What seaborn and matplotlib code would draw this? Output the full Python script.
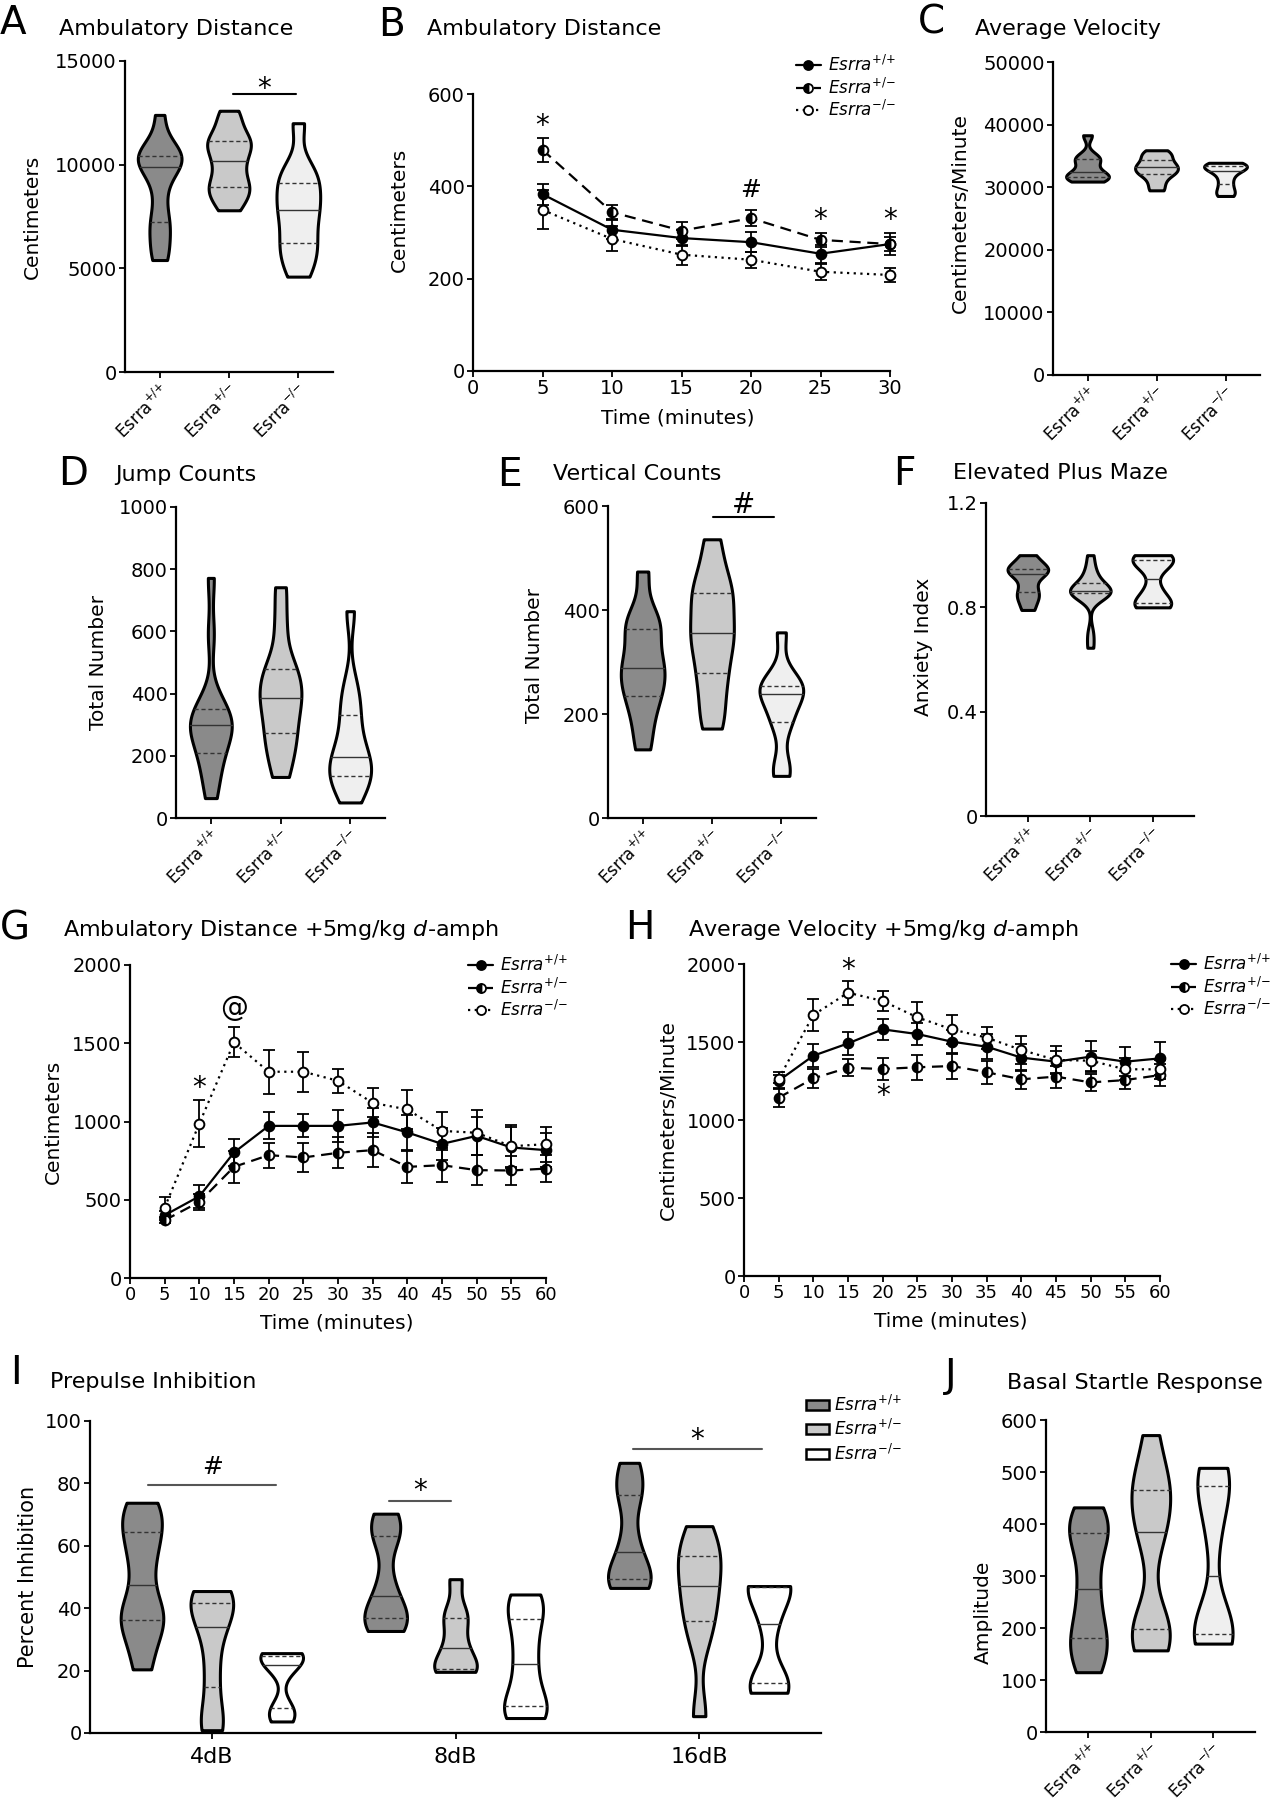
import numpy as np
import pandas as pd
import matplotlib
matplotlib.use("Agg")
import matplotlib.pyplot as plt
import seaborn as sns
from matplotlib.lines import Line2D
from matplotlib.patches import Patch

# figure size in pixels (saved at dpi 100)
W, H = 1271, 1800

GENOS = ["+/+", "+/-", "-/-"]
TICK_LABELS = [r"Esrra$^{{+}/{+}}$", r"Esrra$^{{+}/{-}}$", r"Esrra$^{{-}/{-}}$"]
LEGEND_LABELS = [r"$\mathit{Esrra}^{{+}/{+}}$", r"$\mathit{Esrra}^{{+}/{-}}$",
                 r"$\mathit{Esrra}^{{-}/{-}}$"]
VIOLIN_COLORS = ["#8a8a8a", "#c9c9c9", "#efefef"]
PPI_COLORS = ["#8a8a8a", "#c9c9c9", "#ffffff"]

# A - ambulatory distance, 30 min total (cm), per animal
A_WT = [5400, 6000, 7000, 7300, 8600, 9700, 10100, 10300, 10400, 10500, 10700, 12400]
A_HET = [7800, 8400, 8700, 9000, 9400, 10000, 10400, 10900, 11100, 11300, 12000, 12600]
A_KO = [4600, 5300, 5900, 6300, 7000, 7600, 8000, 8500, 9000, 9500, 9900, 12000]

# B - ambulatory distance per 5 min bin (mean, sem)
B_TIME = [5, 10, 15, 20, 25, 30]
B_WT = [383, 306, 288, 279, 254, 275]
B_WT_SEM = [23, 20, 18, 22, 20, 23]
B_HET = [479, 344, 304, 331, 284, 275]
B_HET_SEM = [26, 15, 18, 18, 16, 15]
B_KO = [349, 286, 252, 241, 215, 208]
B_KO_SEM = [42, 27, 22, 17, 17, 15]

# C - average velocity
C_WT = [30900, 31300, 31600, 31800, 32000, 32900, 34000, 34600, 35000, 38300]
C_HET = [29500, 30800, 32000, 32300, 32900, 33400, 33700, 34600, 35200, 35900]
C_KO = [28600, 29200, 30200, 31300, 32300, 32900, 33200, 33400, 33600, 33900]

# D - jump counts
D_WT = [64, 120, 180, 200, 240, 280, 295, 300, 305, 320, 360, 380, 590, 772]
D_HET = [132, 200, 250, 280, 340, 370, 400, 430, 470, 500, 620, 742]
D_KO = [50, 100, 120, 140, 170, 185, 210, 260, 320, 370, 430, 665]

# E - vertical counts
E_WT = [132, 180, 220, 240, 265, 280, 298, 320, 360, 375, 390, 474]
E_HET = [172, 210, 260, 285, 330, 345, 365, 400, 430, 440, 480, 536]
E_KO = [81, 100, 180, 195, 235, 243, 248, 255, 270, 357]

# F - elevated plus maze anxiety index
F_WT = [0.79, 0.83, 0.85, 0.88, 0.92, 0.935, 0.945, 0.95, 0.97, 1.0]
F_HET = [0.645, 0.70, 0.84, 0.855, 0.857, 0.859, 0.86, 0.862, 0.865, 0.87, 0.90, 0.92, 0.95, 1.0]
F_KO = [0.80, 0.81, 0.82, 0.87, 0.95, 0.98, 0.99, 1.0]

# G - ambulatory distance after d-amphetamine (mean, sem)
G_TIME = [5, 10, 15, 20, 25, 30, 35, 40, 45, 50, 55, 60]
G_WT = [401, 522, 802, 972, 972, 972, 994, 930, 857, 908, 834, 817]
G_WT_SEM = [30, 75, 89, 86, 73, 100, 95, 110, 100, 120, 130, 110]
G_HET = [369, 486, 710, 785, 770, 800, 817, 710, 721, 689, 687, 699]
G_HET_SEM = [20, 50, 100, 80, 95, 100, 110, 100, 110, 95, 95, 85]
G_KO = [450, 987, 1505, 1318, 1318, 1260, 1119, 1077, 940, 928, 842, 855]
G_KO_SEM = [68, 153, 96, 140, 128, 75, 92, 123, 122, 145, 135, 111]

# H - average velocity after d-amphetamine (mean, sem)
H_WT = [1252, 1412, 1491, 1581, 1551, 1502, 1470, 1400, 1374, 1406, 1374, 1395]
H_WT_SEM = [55, 73, 75, 66, 70, 75, 80, 85, 70, 100, 92, 107]
H_HET = [1143, 1267, 1335, 1327, 1338, 1346, 1306, 1261, 1278, 1241, 1256, 1288]
H_HET_SEM = [60, 60, 55, 70, 80, 80, 75, 60, 70, 55, 55, 70]
H_KO = [1263, 1673, 1816, 1763, 1658, 1581, 1528, 1449, 1385, 1380, 1325, 1325]
H_KO_SEM = [25, 100, 77, 64, 100, 92, 70, 89, 89, 64, 70, 60]

# I - prepulse inhibition (%)
I_COND = ["4dB", "8dB", "16dB"]
I_4_WT = [20.4, 30, 36, 37.5, 42, 53, 60, 66, 70, 73.8]
I_4_HET = [0.9, 5, 18, 30, 38, 41, 44, 45.5]
I_4_KO = [3.7, 6, 8.5, 20, 23.4, 24.5, 25.3, 25.6]
I_8_WT = [32.7, 35, 37.5, 40, 48, 62, 66, 70.3]
I_8_HET = [19.6, 20, 20.8, 25, 29.4, 36, 39, 49.3]
I_8_KO = [4.8, 7, 9.3, 18, 26.4, 35, 41, 44.4]
I_16_WT = [46.5, 48, 49.7, 54, 62, 75, 80, 86.6]
I_16_HET = [5.4, 30, 38, 44, 50, 56, 59, 66.3]
I_16_KO = [12.9, 15, 17, 35, 46.9, 47, 47.1]

# J - basal startle amplitude
J_WT = [115, 150, 175, 200, 250, 300, 360, 390, 400, 432]
J_HET = [157, 180, 195, 210, 370, 398, 450, 470, 490, 571]
J_KO = [170, 180, 191, 220, 380, 470, 480, 508]

SERIES_STYLE = [
    dict(linestyle="-", markerfacecolor="black", fillstyle="full"),
    dict(linestyle=(0, (5, 3)), markerfacecolor="black", fillstyle="left"),
    dict(linestyle=(0, (1, 2)), markerfacecolor="white", fillstyle="full"),
]
MARK_OFFSET = {"*": 0.575, "#": 0.365, "@": 0.28}


def px_axes(fig, x0, y0, x1, y1):
    return fig.add_axes([x0 / W, 1 - y1 / H, (x1 - x0) / W, (y1 - y0) / H])


def fig_text(fig, x, y, s, **kw):
    fig.text(x / W, 1 - y / H, s, ha="left", va="center", **kw)


def prism_axes(ax):
    sns.despine(ax=ax)
    for side in ["left", "bottom"]:
        ax.spines[side].set_linewidth(1.6)
    ax.tick_params(axis="both", width=1.3, length=4, labelsize=14, pad=2)


def mark(ax, x, y, s, fs=20):
    ax.annotate(s, (x, y), xytext=(0, -MARK_OFFSET[s] * fs), textcoords="offset points",
                ha="center", va="baseline", fontsize=fs, annotation_clip=False)


def solid_medians(ax):
    # inner quartile lines come as q25, median, q75 per violin
    for ln in ax.lines[1::3]:
        ln.set_linestyle("-")


def violin_panel(ax, groups, ylim, yticks, ylabel, label_xy, width=0.62,
                 xlim=(-0.5, 2.5), yticklabels=None):
    df = pd.DataFrame({"geno": np.repeat(GENOS, [len(g) for g in groups]),
                       "val": np.concatenate(groups)})
    sns.violinplot(data=df, x="geno", y="val", hue="geno", order=GENOS, hue_order=GENOS,
                   palette=VIOLIN_COLORS, legend=False, cut=0, density_norm="width",
                   width=width, bw_adjust=0.6, gridsize=200, inner="quart", linewidth=2.2,
                   linecolor="black", saturation=1,
                   inner_kws=dict(color="#333333", linewidth=1.0, dashes=(3, 2)), ax=ax)
    solid_medians(ax)
    prism_axes(ax)
    ax.set_xlim(*xlim)
    ax.set_ylim(*ylim)
    ax.set_yticks(yticks)
    ax.set_yticklabels(yticklabels if yticklabels else [str(v) for v in yticks])
    ax.set_xticks([0, 1, 2])
    ax.set_xticklabels(TICK_LABELS, rotation=45, ha="right", rotation_mode="anchor", fontsize=12)
    ax.set_xlabel("")
    ax.set_ylabel(ylabel, fontsize=14.5)
    ax.yaxis.set_label_coords(*label_xy)


def line_panel(fig, ax, times, means, sems, xmax, ylim, yticks, ylabel, label_xy, xlabel_xy,
               legend_xy, xtick_fs=14):
    for m, e, st in zip(means, sems, SERIES_STYLE):
        ax.errorbar(times, m, yerr=e, fmt="none", ecolor="black", elinewidth=1.3,
                    capsize=4.5, capthick=1.3, zorder=2)
        sns.lineplot(x=times, y=m, ax=ax, color="black", linewidth=1.6, marker="o",
                     markersize=7, markeredgecolor="black", markeredgewidth=1.4,
                     markerfacecoloralt="white", errorbar=None, zorder=3, **st)
    for art in ax.lines + ax.collections:
        art.set_clip_on(False)
    prism_axes(ax)
    ax.set_xlim(0, xmax)
    ax.set_ylim(*ylim)
    ax.set_xticks(range(0, xmax + 1, 5))
    ax.set_yticks(yticks)
    ax.tick_params(axis="x", labelsize=xtick_fs)
    ax.set_xlabel("Time (minutes)", fontsize=14.5)
    ax.set_ylabel(ylabel, fontsize=14.5)
    ax.yaxis.set_label_coords(*label_xy)
    ax.xaxis.set_label_coords(*xlabel_xy)
    handles = [Line2D([0], [0], color="black", linewidth=1.6, marker="o", markersize=6.5,
                      markeredgecolor="black", markeredgewidth=1.3,
                      markerfacecoloralt="white", **st) for st in SERIES_STYLE]
    ax.legend(handles, LEGEND_LABELS, loc="upper left",
              bbox_to_anchor=(legend_xy[0] / W, 1 - legend_xy[1] / H),
              bbox_transform=fig.transFigure, frameon=False, fontsize=12,
              handlelength=1.5, handletextpad=0.4, labelspacing=0.15,
              borderpad=0, borderaxespad=0)


def main():
    sns.set_style("ticks")
    plt.rcParams["font.family"] = ["DejaVu Sans"]
    plt.rcParams["text.color"] = "black"
    plt.rcParams["axes.labelcolor"] = "black"
    plt.rcParams["xtick.color"] = "black"
    plt.rcParams["ytick.color"] = "black"
    plt.rcParams["axes.edgecolor"] = "black"

    fig = plt.figure(figsize=(W / 100, H / 100), dpi=100)
    fig.patch.set_facecolor("white")

    # panel letters and titles
    for letter, x, y in [("A", 0, 23), ("B", 378, 25), ("C", 918, 23), ("D", 58, 474),
                         ("E", 497, 475), ("F", 893, 474), ("G", 0, 928), ("H", 625, 928),
                         ("I", 10, 1373), ("J", 945, 1376)]:
        fig_text(fig, x, y, letter, fontsize=28)
    for title, x, y in [("Ambulatory Distance", 59, 29), ("Ambulatory Distance", 427, 29),
                        ("Average Velocity", 975, 29), ("Jump Counts", 115, 475),
                        ("Vertical Counts", 553, 474), ("Elevated Plus Maze", 953, 473),
                        (r"Ambulatory Distance +5mg/kg $\mathit{d}$-amph", 63, 930),
                        (r"Average Velocity +5mg/kg $\mathit{d}$-amph", 688, 930),
                        ("Prepulse Inhibition", 50, 1382),
                        ("Basal Startle Response", 1007, 1383)]:
        fig_text(fig, x, y, title, fontsize=16)

    # A
    ax = px_axes(fig, 125, 61, 333, 372)
    violin_panel(ax, [A_WT, A_HET, A_KO], (0, 15000), [0, 5000, 10000, 15000],
                 "Centimeters", (-0.40, 0.5), width=0.63)
    ax.plot([1.06, 1.96], [13400, 13400], color="black", lw=1.5)
    mark(ax, 1.5, 14050, "*")

    # B
    ax = px_axes(fig, 473, 94, 890, 371)
    line_panel(fig, ax, B_TIME, [B_WT, B_HET, B_KO], [B_WT_SEM, B_HET_SEM, B_KO_SEM], 30,
               (0, 600), [0, 200, 400, 600], "Centimeters", (-0.153, 0.58), (0.49, -0.134),
               (796, 55))
    mark(ax, 5, 548, "*")
    mark(ax, 20, 396, "#", fs=18)
    mark(ax, 25, 345, "*")
    mark(ax, 30, 345, "*")

    # C
    ax = px_axes(fig, 1053, 62, 1260, 375)
    violin_panel(ax, [C_WT, C_HET, C_KO], (0, 50000), [0, 10000, 20000, 30000, 40000, 50000],
                 "Centimeters/Minute", (-0.40, 0.516), width=0.62)

    # D
    ax = px_axes(fig, 176, 507, 385, 818)
    violin_panel(ax, [D_WT, D_HET, D_KO], (0, 1000), [0, 200, 400, 600, 800, 1000],
                 "Total Number", (-0.325, 0.5), width=0.6)

    # E
    ax = px_axes(fig, 608, 506, 816, 818)
    violin_panel(ax, [E_WT, E_HET, E_KO], (0, 600), [0, 200, 400, 600],
                 "Total Number", (-0.31, 0.52), width=0.63)
    ax.plot([1.01, 1.89], [578, 578], color="black", lw=1.5)
    mark(ax, 1.45, 606, "#")

    # F
    ax = px_axes(fig, 986, 503, 1194, 816)
    violin_panel(ax, [F_WT, F_HET, F_KO], (0, 1.2), [0, 0.4, 0.8, 1.2], "Anxiety Index",
                 (-0.255, 0.54), width=0.65, xlim=(-0.67, 2.66),
                 yticklabels=["0", "0.4", "0.8", "1.2"])

    # G
    ax = px_axes(fig, 130, 965, 546, 1278)
    line_panel(fig, ax, G_TIME, [G_WT, G_HET, G_KO], [G_WT_SEM, G_HET_SEM, G_KO_SEM], 60,
               (0, 2000), [0, 500, 1000, 1500, 2000], "Centimeters", (-0.161, 0.5),
               (0.497, -0.112), (468, 955), xtick_fs=13)
    mark(ax, 10, 1264, "*")
    mark(ax, 15, 1723, "@")

    # H
    ax = px_axes(fig, 744, 964, 1160, 1276)
    line_panel(fig, ax, G_TIME, [H_WT, H_HET, H_KO], [H_WT_SEM, H_HET_SEM, H_KO_SEM], 60,
               (0, 2000), [0, 500, 1000, 1500, 2000], "Centimeters/Minute", (-0.159, 0.5),
               (0.497, -0.115), (1171, 954), xtick_fs=13)
    mark(ax, 15, 2011, "*")
    mark(ax, 20, 1203, "*")

    # I
    ax = px_axes(fig, 90, 1421, 821, 1733)
    groups = [I_4_WT, I_4_HET, I_4_KO, I_8_WT, I_8_HET, I_8_KO, I_16_WT, I_16_HET, I_16_KO]
    conds = [c for c in I_COND for _ in GENOS]
    genos = GENOS * 3
    df = pd.DataFrame({"cond": np.repeat(conds, [len(g) for g in groups]),
                       "geno": np.repeat(genos, [len(g) for g in groups]),
                       "val": np.concatenate(groups)})
    sns.violinplot(data=df, x="cond", y="val", hue="geno", order=I_COND, hue_order=GENOS,
                   palette=PPI_COLORS, legend=False, dodge=True, width=0.86, gap=0.39,
                   cut=0, density_norm="width", bw_adjust=0.6, gridsize=200, inner="quart",
                   linewidth=2.2, linecolor="black", saturation=1,
                   inner_kws=dict(color="#333333", linewidth=1.0, dashes=(3, 2)), ax=ax)
    solid_medians(ax)
    prism_axes(ax)
    ax.set_xlim(-0.5, 2.5)
    ax.set_ylim(0, 100)
    ax.set_yticks([0, 20, 40, 60, 80, 100])
    ax.tick_params(axis="x", labelsize=16, pad=6)
    ax.set_xlabel("")
    ax.set_ylabel("Percent Inhibition", fontsize=15)
    ax.yaxis.set_label_coords(-0.071, 0.5)
    for x0, x1, y, s, fs, ym in [(-0.26, 0.262, 79.4, "#", 18, 86.0),
                                 (0.729, 0.982, 74.3, "*", 20, 80.0),
                                 (1.729, 2.258, 90.9, "*", 20, 96.5)]:
        ax.plot([x0, x1], [y, y], color="#555555", lw=1.5)
        mark(ax, (x0 + x1) / 2, ym, s, fs=fs)
    handles = [Patch(facecolor=c, edgecolor="black", linewidth=1.8) for c in PPI_COLORS]
    fig.legend(handles, LEGEND_LABELS, loc="upper left",
               bbox_to_anchor=(806 / W, 1 - 1395 / H), frameon=False, fontsize=12,
               handlelength=1.4, handleheight=0.55, handletextpad=0.25, labelspacing=0.25,
               borderpad=0, borderaxespad=0)

    # J
    ax = px_axes(fig, 1046, 1420, 1255, 1732)
    violin_panel(ax, [J_WT, J_HET, J_KO], (0, 600), [0, 100, 200, 300, 400, 500, 600],
                 "Amplitude", (-0.254, 0.385), width=0.62, xlim=(-0.68, 2.67))

    fig.savefig("out.png", dpi=100, facecolor="white")


if __name__ == "__main__":
    main()
